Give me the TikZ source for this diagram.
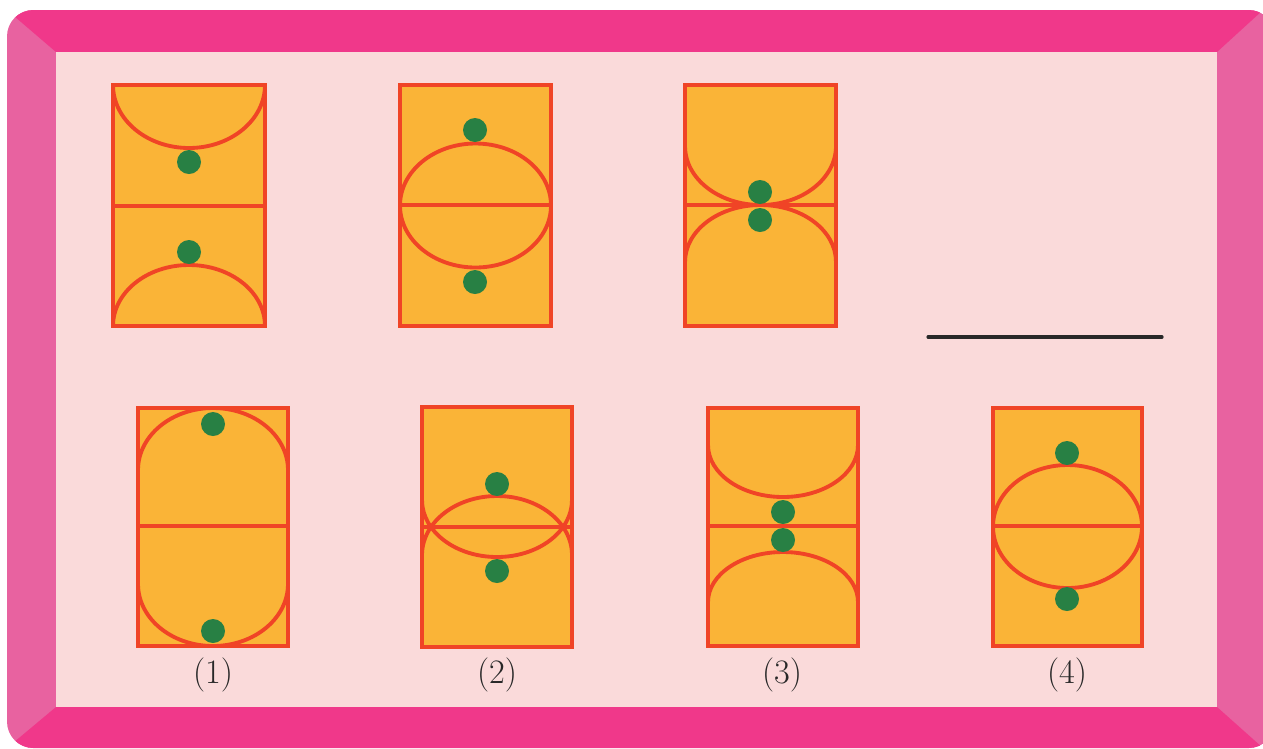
\documentclass[tikz,border=0pt]{standalone}
\definecolor{sidepink}{RGB}{232,98,160}
\definecolor{toppink}{RGB}{240,56,138}
\definecolor{innerpink}{RGB}{250,218,218}
\definecolor{courtorange}{RGB}{250,180,55}
\definecolor{courtred}{RGB}{240,68,38}
\definecolor{dotgreen}{RGB}{40,128,68}
\definecolor{inkgray}{RGB}{40,40,40}
\tikzset{
  courtbox/.style={fill=courtorange},
  courtline/.style={draw=courtred, line width=2.2pt},
  ball/.style={fill=dotgreen},
  caption/.style={font=\fontsize{19.5pt}{22pt}\selectfont, text=inkgray, inner sep=0pt}
}
\begin{document}
\begin{tikzpicture}[x=0.02cm,y=-0.02cm]
\useasboundingbox (0,0) rectangle (1263,748);
% frame
\begin{scope}
  \clip[rounded corners=15] (7,10) rectangle (1275,748);
  \fill[sidepink] (0,0) rectangle (1263,748);
  \fill[toppink] (0,0) -- (1263,0) -- (1263,10) -- (1217,52) -- (56,52) -- (7,10) -- cycle;
  \fill[toppink] (0,760) -- (1263,760) -- (1263,748) -- (1217,707) -- (56,707) -- (7,748) -- cycle;
\end{scope}
\fill[innerpink] (56,52) rectangle (1217,707);

% ---- top row ----
% Box A
\fill[courtbox] (113,85) rectangle (265,326);
\draw[courtline] (113,206) -- (265,206);
\draw[courtline] (265,85) arc[start angle=0,end angle=180,x radius=76,y radius=63];
\draw[courtline] (265,326) arc[start angle=0,end angle=-180,x radius=76,y radius=61];
\draw[courtline] (113,85) rectangle (265,326);
\fill[ball] (189,162) circle (12);
\fill[ball] (189,252) circle (12);

% Box B
\fill[courtbox] (400,85) rectangle (551,326);
\draw[courtline] (400,205) -- (551,205);
\draw[courtline] (475.5,205.5) ellipse [x radius=75.5,y radius=62];
\draw[courtline] (400,85) rectangle (551,326);
\fill[ball] (475,130) circle (12);
\fill[ball] (475,282) circle (12);

% Box C
\fill[courtbox] (685,85) rectangle (836,326);
\draw[courtline] (685,205) -- (836,205);
\draw[courtline] (836,146) arc[start angle=0,end angle=180,x radius=75.5,y radius=59];
\draw[courtline] (836,262) arc[start angle=0,end angle=-180,x radius=75.5,y radius=57];
\draw[courtline] (685,85) rectangle (836,326);
\fill[ball] (760,192) circle (12);
\fill[ball] (760,220) circle (12);

% answer line
\draw[inkgray, line width=1.8pt, line cap=round] (928,337) -- (1162,337);

% ---- bottom row ----
% Box 1
\fill[courtbox] (138,408) rectangle (288,646);
\draw[courtline] (138,526) -- (288,526);
\draw[courtline] (288,470) arc[start angle=0,end angle=-180,x radius=75,y radius=62];
\draw[courtline] (288,584) arc[start angle=0,end angle=180,x radius=75,y radius=62];
\draw[courtline] (138,408) rectangle (288,646);
\fill[ball] (213,424) circle (12);
\fill[ball] (213,631) circle (12);
\node[caption] (l1) at (213,675) {(1)};

% Box 2
\fill[courtbox] (422,407) rectangle (572,647);
\draw[courtline] (422,527) -- (572,527);
\draw[courtline] (572,555) arc[start angle=0,end angle=-180,x radius=75,y radius=59];
\draw[courtline] (572,500) arc[start angle=0,end angle=180,x radius=75,y radius=57];
\draw[courtline] (422,407) rectangle (572,647);
\fill[ball] (497,484) circle (12);
\fill[ball] (497,571) circle (12);
\node[caption] (l2) at (497,675) {(2)};

% Box 3
\fill[courtbox] (708,408) rectangle (858,646);
\draw[courtline] (708,526) -- (858,526);
\draw[courtline] (858,445) arc[start angle=0,end angle=180,x radius=75,y radius=52];
\draw[courtline] (858,602) arc[start angle=0,end angle=-180,x radius=75,y radius=50];
\draw[courtline] (708,408) rectangle (858,646);
\fill[ball] (783,512) circle (12);
\fill[ball] (783,540) circle (12);
\node[caption] (l3) at (782,675) {(3)};

% Box 4
\fill[courtbox] (993,408) rectangle (1142,646);
\draw[courtline] (993,526) -- (1142,526);
\draw[courtline] (1067.5,526.5) ellipse [x radius=74.5,y radius=61.5];
\draw[courtline] (993,408) rectangle (1142,646);
\fill[ball] (1067,453) circle (12);
\fill[ball] (1067,599) circle (12);
\node[caption] (l4) at (1067,675) {(4)};
\end{tikzpicture}
\end{document}
